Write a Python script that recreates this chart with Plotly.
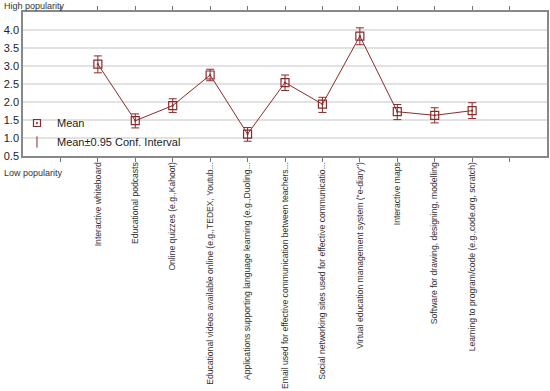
import plotly.graph_objects as go

categories = [
    "Interactive whiteboard",
    "Educational podcasts",
    "Online quizzes (e.g.,Kahoot)",
    "Educational videos available online (e.g.,TEDEX, Youtub...",
    "Applications supporting language learning (e.g.,Duoling...",
    "Email used for effective communication between teachers...",
    "Social networking sites used for effective communicatio...",
    "Virtual education management system (\"e-diary\")",
    "Interactive maps",
    "Software for drawing, designing, modelling",
    "Learning to program/code (e.g.,code.org, scratch)",
]
means = [3.05, 1.48, 1.90, 2.75, 1.11, 2.54, 1.94, 3.83, 1.73, 1.63, 1.76]
ci_upper = [3.28, 1.67, 2.09, 2.91, 1.29, 2.75, 2.13, 4.06, 1.93, 1.84, 1.98]
ci_lower = [2.81, 1.28, 1.71, 2.59, 0.91, 2.32, 1.71, 3.59, 1.51, 1.42, 1.54]
y_ticks = [0.5, 1.0, 1.5, 2.0, 2.5, 3.0, 3.5, 4.0]

RED = "#8c2a2a"
xs = list(range(len(categories)))
err_plus = [u - m for u, m in zip(ci_upper, means)]
err_minus = [m - l for m, l in zip(means, ci_lower)]

fig = go.Figure()
fig.add_trace(go.Scatter(
    x=xs, y=means, mode="lines+markers", name="Mean", showlegend=False,
    line=dict(color=RED, width=1),
    marker=dict(symbol="square-open-dot", size=8, color=RED, line=dict(width=1.2, color=RED)),
    error_y=dict(type="data", symmetric=False, array=err_plus, arrayminus=err_minus,
                 color=RED, thickness=1, width=4),
))
fig.add_trace(go.Scatter(
    x=[None], y=[None], mode="markers", name="Mean",
    marker=dict(symbol="square-open-dot", size=7, color=RED, line=dict(width=1.2, color=RED)),
))
fig.add_trace(go.Scatter(
    x=[None], y=[None], mode="markers", name="Mean±0.95 Conf. Interval",
    marker=dict(symbol="line-ns-open", size=8, color=RED, line=dict(width=1, color=RED)),
))

fig.update_layout(
    width=550, height=391,
    margin=dict(l=23, r=3, t=12, b=235, autoexpand=False),
    paper_bgcolor="white", plot_bgcolor="white",
    font=dict(family="Liberation Sans, Arial, sans-serif", color="#222"),
    showlegend=True,
    legend=dict(x=-0.0115, y=0.33, xanchor="left", yanchor="top",
                bgcolor="rgba(0,0,0,0)", font=dict(size=11, color="#222"),
                itemwidth=30, tracegroupgap=0),
    xaxis=dict(
        range=[-2, len(categories) + 1],
        tickvals=list(range(-1, len(categories) + 1)),
        ticktext=[""] + categories + [""],
        tickangle=-90, tickfont=dict(size=8.6, color="#333"),
        ticks="outside", ticklen=4, tickcolor="#777", ticklabelstandoff=-3,
        showgrid=False, zeroline=False, automargin=False,
        showline=True, linecolor="#888", linewidth=1.5, mirror="ticks",
    ),
    yaxis=dict(
        range=[0.5, 4.5],
        tickvals=y_ticks, ticktext=[f"{v:.1f}" for v in y_ticks],
        tickfont=dict(size=11, color="#222"),
        showgrid=True, gridcolor="#e2e2e2", gridwidth=1.5,
        zeroline=False, ticks="", ticklen=0, automargin=False,
        showline=True, linecolor="#888", linewidth=1.5, mirror=True,
    ),
    annotations=[
        dict(text="High popularity", xref="paper", yref="paper", x=-21/524, y=1.0,
             xanchor="left", yanchor="bottom", showarrow=False,
             font=dict(size=9, color="#333"), yshift=-1),
        dict(text="Low popularity", xref="paper", yref="paper", x=-21/524, y=0,
             xanchor="left", yanchor="top", showarrow=False,
             font=dict(size=9, color="#333"), yshift=-10),
    ],
)

fig.write_html("out.html", config={"displayModeBar": False},
               post_script="document.body.style.margin='0';")
